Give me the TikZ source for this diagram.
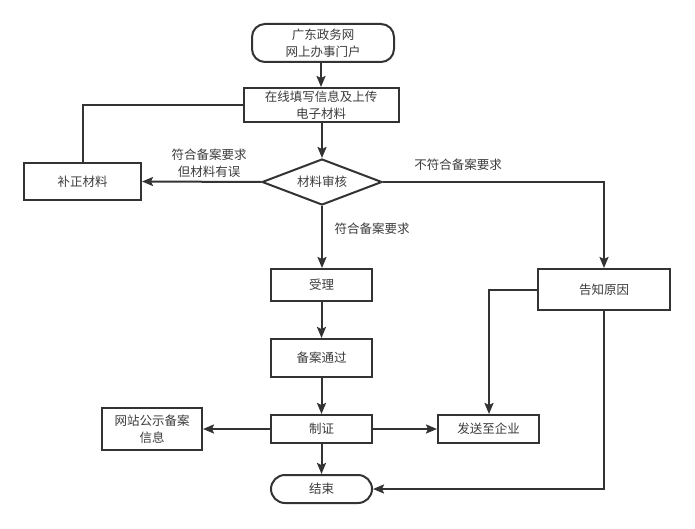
\documentclass[tikz,border=0pt]{standalone}
\usepackage{fontspec}
\newfontfamily\cjk{Noto Sans CJK SC}
\usetikzlibrary{shapes.geometric,arrows.meta}
\definecolor{ln}{RGB}{51,51,51}
\definecolor{tx}{RGB}{60,60,60}
\tikzset{
  base/.style={draw=ln, line width=2pt, text=tx, align=center, inner sep=0pt,
    font=\cjk\fontsize{12.5}{17}\selectfont},
  box/.style={base, rectangle},
  pill/.style={base, rectangle, rounded corners=13pt},
  dia/.style={base, diamond, aspect=2.6},
  conn/.style={draw=ln, line width=2pt, -{Stealth[length=11pt,width=9pt,inset=2pt]}},
  plain/.style={draw=ln, line width=2pt},
  lbl/.style={text=tx, align=center, font=\cjk\fontsize{12.5}{17}\selectfont}
}
\begin{document}
\begin{tikzpicture}[x=1pt,y=-1pt]
\useasboundingbox[fill=white] (0,0) rectangle (695,529);
\node[pill, minimum width=142pt, minimum height=38pt] (start) at (323,43) {广东政务网\\网上办事门户};
\node[box, minimum width=155pt, minimum height=34pt] (fill) at (321,105) {在线填写信息及上传\\电子材料};
\node[dia, minimum width=120pt, minimum height=46pt] (check) at (322,182) {材料审核};
\node[box, minimum width=117pt, minimum height=37pt] (fix) at (82.5,181.5) {补正材料};
\node[box, minimum width=101pt, minimum height=32pt] (accept) at (321.5,285) {受理};
\node[box, minimum width=101pt, minimum height=38pt] (pass) at (321.5,358) {备案通过};
\node[box, minimum width=101pt, minimum height=28pt] (cert) at (321.5,429) {制证};
\node[pill, rounded corners=14pt, minimum width=101pt, minimum height=28pt] (end) at (321.5,489) {结束};
\node[box, minimum width=100pt, minimum height=42pt] (pub) at (152,429) {网站公示备案\\信息};
\node[box, minimum width=101pt, minimum height=28pt] (send) at (488.5,429) {发送至企业};
\node[box, minimum width=132pt, minimum height=41pt] (tell) at (604,289.5) {告知原因};

\coordinate (c1) at (83,105);
\coordinate (c2) at (604,182);
\coordinate (c3) at (489,290);
\coordinate (c4) at (604,489);

\draw[conn] (start.south -| fill.north) -- (fill.north);
\draw[conn] (fill.south -| check.north) -- (check.north);
\draw[conn] (check.west) -- (fix.east);
\draw[plain] (fix.north -| c1) -- (c1) -- (fill.west |- c1);
\draw[conn] (check.east) -- (c2) -- (tell.north);
\draw[conn] (check.south) -- (check.south |- accept.north);
\draw[conn] (accept.south) -- (pass.north);
\draw[conn] (pass.south) -- (cert.north);
\draw[conn] (cert.west) -- (pub.east);
\draw[conn] (cert.east) -- (send.west);
\draw[conn] (cert.south) -- (end.north);
\draw[conn] (tell.west |- c3) -- (c3) -- (c3 |- send.north);
\draw[conn] (tell.south) -- (c4) -- (end.east);

\node[lbl] (l1) at (209,163) {符合备案要求\\但材料有误};
\node[lbl] (l2) at (458,165) {不符合备案要求};
\node[lbl] (l3) at (372,229) {符合备案要求};
\end{tikzpicture}
\end{document}
